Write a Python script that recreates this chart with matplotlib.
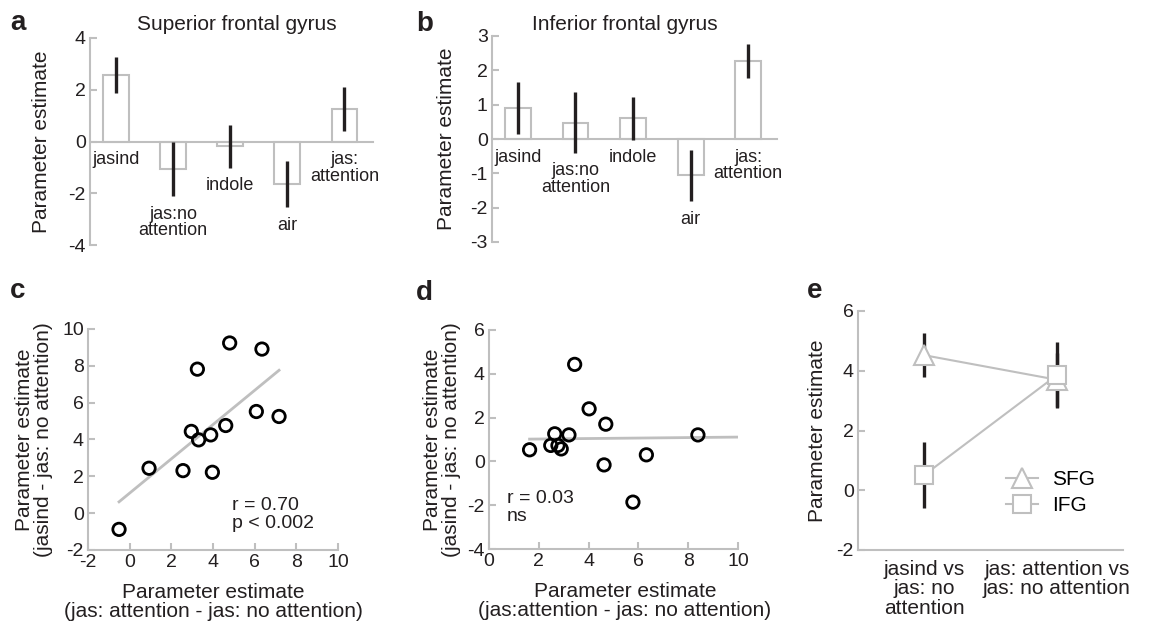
import numpy as np
import matplotlib
matplotlib.use('Agg')
import matplotlib.pyplot as plt

plt.rcParams['font.family'] = ['Liberation Sans', 'DejaVu Sans']
plt.rcParams['font.size'] = 14
plt.rcParams['axes.unicode_minus'] = False

GRAY = '#bfbfbf'
INK = '#231f20'

# panels a / b: bar values and error half-widths
bar_labels = ['jasind', 'jas:no\nattention', 'indole', 'air', 'jas:\nattention']
sfg_means = [2.58, -1.05, -0.19, -1.65, 1.25]
sfg_errs = [0.70, 1.05, 0.82, 0.90, 0.85]
ifg_means = [0.90, 0.48, 0.60, -1.06, 2.28]
ifg_errs = [0.76, 0.88, 0.62, 0.75, 0.50]

# panel c scatter + fitted line (slope, intercept) as drawn
c_x = [-0.51, 0.93, 2.56, 2.96, 3.31, 3.25, 3.89, 3.97, 4.61, 4.80, 6.08, 6.35, 7.17]
c_y = [-0.88, 2.44, 2.31, 4.44, 3.98, 7.82, 4.25, 2.22, 4.76, 9.24, 5.52, 8.91, 5.25]
c_fit = (0.93, 1.09)

# panel d scatter + fitted line
d_x = [1.63, 2.48, 2.64, 2.77, 2.90, 3.21, 3.44, 4.02, 4.62, 4.69, 5.78, 6.32, 8.39]
d_y = [0.53, 0.73, 1.26, 0.73, 0.57, 1.21, 4.43, 2.40, -0.16, 1.70, -1.86, 0.30, 1.21]
d_fit = (0.011, 1.0)

# panel e
e_cats = ['jasind vs\njas: no\nattention', 'jas: attention vs\njas: no attention']
e_sfg = [4.52, 3.70]
e_sfg_err = [0.74, 0.90]
e_ifg = [0.51, 3.85]
e_ifg_err = [1.09, 1.10]

W, H = 1154, 627
fig = plt.figure(figsize=(W / 100, H / 100), dpi=100)


def add_ax(left, top, right, bottom):
    # pixel box -> figure fraction
    return fig.add_axes([left / W, 1 - bottom / H, (right - left) / W, (bottom - top) / H])


def style(ax):
    for s in ['top', 'right']:
        ax.spines[s].set_visible(False)
    for s in ['left', 'bottom']:
        ax.spines[s].set_color(GRAY)
        ax.spines[s].set_linewidth(1.5)
    ax.tick_params(direction='in', length=5, width=1.5, color=GRAY,
                   labelcolor=INK, pad=3, labelsize=14)
    ax.set_facecolor('none')


def bar_panel(ax, means, errs, ylim, title, title_x, title_pad, ylab_x):
    x = np.arange(len(means))
    ax.bar(x, means, width=0.45, color='white', edgecolor=GRAY, linewidth=1.5, zorder=2)
    ax.errorbar(x, means, yerr=errs, fmt='none', ecolor=INK, elinewidth=2.4,
                capsize=0, zorder=3)
    style(ax)
    ax.spines['bottom'].set_position(('data', 0))
    ax.set_xticks([])
    ax.set_xlim(-0.45, 4.5)
    ax.set_ylim(*ylim)
    ax.set_yticks(np.arange(ylim[0], ylim[1] + 1, 2 if ylim[1] == 4 else 1))
    for xi, m, e, lab in zip(x, means, errs, bar_labels):
        ax.annotate(lab, xy=(xi, min(0, m - e)), xytext=(0, -7),
                    textcoords='offset points', ha='center', va='top',
                    fontsize=13, linespacing=0.95, color=INK)
    ax.set_ylabel('Parameter estimate', fontsize=15, color=INK)
    ax.yaxis.set_label_coords(ylab_x, 0.5)
    ax.set_title(title, x=title_x, fontsize=15, pad=title_pad, color=INK)


# a
ax_a = add_ax(90, 38, 373, 245)
bar_panel(ax_a, sfg_means, sfg_errs, (-4, 4), 'Superior frontal gyrus', 0.52, 5.8, -0.138)

# b
ax_b = add_ax(492, 36, 777, 242)
bar_panel(ax_b, ifg_means, ifg_errs, (-3, 3), 'Inferior frontal gyrus', 0.467, 4.3, -0.126)


def scatter_panel(ax, xs, ys, fit, xlim, ylim, line_end, xlab, ylab_x, xlab_x, txt, txt_xy):
    ax.scatter(xs, ys, s=80, facecolors='none', edgecolors='black', linewidths=2, zorder=3)
    k, b = fit
    lx = np.array([min(xs), line_end])
    ax.plot(lx, k * lx + b, color=GRAY, lw=2, zorder=2)
    style(ax)
    ax.set_xlim(*xlim)
    ax.set_ylim(*ylim)
    ax.set_xticks(np.arange(xlim[0], xlim[1] + 1, 2))
    ax.set_yticks(np.arange(ylim[0], ylim[1] + 1, 2))
    ax.set_ylabel('Parameter estimate\n(jasind - jas: no attention)', fontsize=15,
                  color=INK, linespacing=1.0)
    ax.yaxis.set_label_coords(ylab_x, 0.5)
    ax.set_xlabel(xlab, fontsize=15, color=INK, linespacing=1.0)
    ax.xaxis.set_label_coords(xlab_x, -0.15)
    ax.xaxis.label.set_va('top')
    ax.text(txt_xy[0], txt_xy[1], txt, ha='left', va='top', fontsize=14,
            color=INK, linespacing=1.05)


# c
ax_c = add_ax(88, 329, 338, 550)
scatter_panel(ax_c, c_x, c_y, c_fit, (-2, 10), (-2, 10), max(c_x),
              'Parameter estimate\n(jas: attention - jas: no attention)',
              -0.14, 0.5, 'r = 0.70\np < 0.002', (4.91, 0.88))

# d
ax_d = add_ax(489, 330, 738, 549)
scatter_panel(ax_d, d_x, d_y, d_fit, (0, 10), (-4, 6), 10,
              'Parameter estimate\n(jas:attention - jas: no attention)',
              -0.112, 0.546, 'r = 0.03\nns', (0.72, -1.31))

# e
ax_e = add_ax(858, 311, 1123, 550)
xe = np.arange(len(e_cats))
ax_e.errorbar(xe, e_sfg, yerr=e_sfg_err, fmt='none', ecolor=INK, elinewidth=2.4, zorder=2)
ax_e.errorbar(xe, e_ifg, yerr=e_ifg_err, fmt='none', ecolor=INK, elinewidth=2.4, zorder=2)
ax_e.plot(xe, e_sfg, color=GRAY, lw=1.5, marker='^', ms=15, mfc='white', mec=GRAY,
          mew=1.5, label='SFG', zorder=3)
ax_e.plot(xe, e_ifg, color=GRAY, lw=1.5, marker='s', ms=13, mfc='white', mec=GRAY,
          mew=1.5, label='IFG', zorder=4)
style(ax_e)
ax_e.set_xlim(-0.5, 1.5)
ax_e.set_ylim(-2, 6)
ax_e.set_yticks(np.arange(-2, 7, 2))
ax_e.set_xticks(xe)
ax_e.set_xticklabels(e_cats, fontsize=15, linespacing=1.05)
ax_e.tick_params(axis='x', length=0, pad=7)
ax_e.set_ylabel('Parameter estimate', fontsize=15, color=INK)
ax_e.yaxis.set_label_coords(-0.117, 0.5)
ax_e.legend(loc='center left', bbox_to_anchor=(0.56, 0.24), frameon=False,
            fontsize=15, handlelength=1.5, handletextpad=0.7, labelspacing=0.35,
            borderpad=0, borderaxespad=0)

# panel letters
for lab, px, py in [('a', 10, 30), ('b', 416, 31), ('c', 10, 298),
                    ('d', 416, 300), ('e', 807, 298)]:
    fig.text(px / W, 1 - py / H, lab, fontsize=20, fontweight='bold',
             ha='left', va='baseline', color=INK)

fig.savefig('out.png', dpi=100)
